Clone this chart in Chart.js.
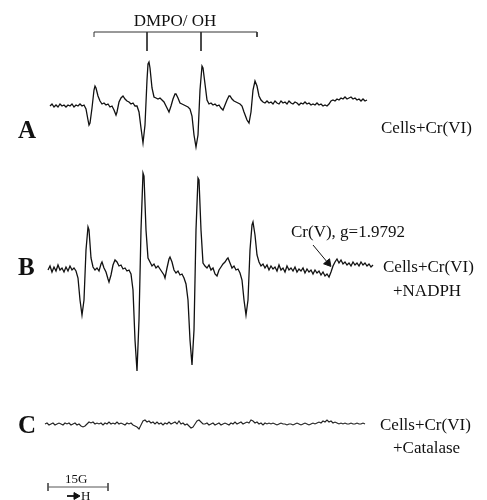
<!DOCTYPE html>
<html>
<head>
<meta charset="utf-8">
<script src="https://cdn.jsdelivr.net/npm/chart.js@4/dist/chart.umd.min.js"></script>
<style>
  html, body { margin: 0; padding: 0; background: #ffffff; }
  #wrap { position: relative; width: 487px; height: 500px; overflow: hidden; background: #fff; }
  #c { position: absolute; left: 0; top: 0; }
  .t { position: absolute; white-space: nowrap; line-height: 1; color: #111;
       font-family: "Liberation Serif", "Times New Roman", "DejaVu Serif", serif; }
</style>
</head>
<body>
<div id="wrap">
  <canvas id="c" width="487" height="500"></canvas>
  <div class="t" style="left:175px; top:12px; font-size:17px; transform:translateX(-50%);">DMPO/ OH</div>
  <div class="t" style="left:18px; top:117px; font-size:25px; font-weight:bold;">A</div>
  <div class="t" style="left:18px; top:254px; font-size:25px; font-weight:bold;">B</div>
  <div class="t" style="left:18px; top:412px; font-size:25px; font-weight:bold;">C</div>
  <div class="t" style="left:381px; top:119px; font-size:17px;">Cells+Cr(VI)</div>
  <div class="t" style="left:383px; top:258px; font-size:17px;">Cells+Cr(VI)</div>
  <div class="t" style="left:393px; top:282px; font-size:17px;">+NADPH</div>
  <div class="t" style="left:380px; top:416px; font-size:17px;">Cells+Cr(VI)</div>
  <div class="t" style="left:393px; top:439px; font-size:17px;">+Catalase</div>
  <div class="t" style="left:291px; top:223px; font-size:17px;">Cr(V), g=1.9792</div>
  <div class="t" style="left:65px; top:472px; font-size:13px;">15G</div>
  <div class="t" style="left:81px; top:489px; font-size:13px;">H</div>
</div>
<script>
// ---------------- DATA (magnetic field in G, signal in arbitrary units) ----------------
const fieldA = [12.5,13,13.5,14,14.5,15,15.5,16,16.5,17,17.5,18,18.5,19,19.5,20,20.5,21,21.5,22,22.25,22.5,23,23.5,23.75,24,24.5,25,25.5,26,26.5,27,27.5,28,28.5,29,29.25,29.75,30.25,30.75,31.25,31.75,32.25,32.75,33.25,33.75,34.25,34.75,35.25,35.75,36.25,36.75,37,37.25,37.5,38,38.5,39,39.5,40,40.5,41,41.5,42,42.25,42.75,43.25,43.75,44,44.5,45,45.5,46,46.5,47,47.5,48,48.5,49,49.5,50,50.5,50.75,51.25,51.75,52.25,52.75,53.25,53.75,54.25,54.75,55.25,55.75,56.25,56.75,57.25,57.5,58,58.5,59,59.5,60,60.5,61,61.75,62.25,62.75,63.25,63.75,64.25,64.75,65.25,65.75,66.25,66.75,67.25,67.75,68.25,68.75,69.25,69.75,70.25,70.75,71.25,71.75,72.25,72.75,73.25,73.75,74.25,74.75,75.25,75.75,76.25,76.75,77.25,77.75,78.25,78.75,79.25,79.75,80.25,80.75,81.25,81.75,82.25,82.75,83.25,83.75,84.25,84.75,85.25,85.75,86.25,86.75,87.25,87.75,88.25,88.75,89.25,89.75,90.25,90.75,91.25,91.75];
const signalA = [0,2,-1,1,-1,2,0,1,-1,1,0,2,-1,1,0,2,0,1,-3,-14,-19,-17,-2,16,20,18,10,5,2,3,1,2,-1,0,-4,-9,-6,4,8,10,7,5,4,2,3,0,0,-6,-22,-37,-19,26,42,44,38,18,9,8,7,8,6,4,0,-4,-6,0,7,12,12,8,3,2,1,0,-1,-3,-10,-29,-41,-29,16,40,38,22,6,2,3,1,2,0,1,-2,-4,1,6,10,10,7,5,4,3,2,0,-6,-14,-17,-6,16,25,20,10,6,4,3,5,3,4,2,5,3,2,5,3,4,2,5,3,2,4,3,1,3,2,4,2,3,1,2,1,3,1,2,0,1,0,2,5,6,5,7,6,8,7,9,7,8,9,7,8,6,7,5,7,5,6];

const fieldB = [12,12.5,13,13.5,14,14.5,15,15.5,16,16.5,17,17.5,18,18.5,19,19.5,20,20.5,21,21.5,22,22.25,22.75,23.25,23.75,24.25,24.75,25.25,25.5,26,26.5,27,27.25,27.75,28.25,28.75,29.25,29.75,30.25,30.75,31.25,31.75,32.25,32.75,33.25,33.75,34.25,34.75,35.25,35.75,36,36.5,37,37.5,38,38.5,39,39.5,40,40.5,41,41.25,41.75,42.25,42.5,43,43.5,44,44.5,45,45.5,46,46.5,47,47.5,48,48.5,49,49.5,49.75,50.25,50.75,51.25,51.75,52.25,52.75,53.25,53.75,54.25,54.75,55.25,55.75,56.25,56.75,57,57.5,58,58.5,59,59.5,60,60.5,61,61.5,62,62.5,63,63.25,63.75,64.25,64.75,65.25,65.75,66.25,66.75,67.25,67.75,68.25,68.75,69.25,69.75,70.25,70.75,71.25,71.75,72.25,72.75,73.25,73.75,74.25,74.75,75.25,75.75,76.25,76.75,77.25,77.75,78.25,78.75,79.25,79.75,80.25,80.75,81.25,81.75,82.25,82.75,83.25,83.75,84.25,84.75,85.25,85.75,86.25,86.75,87.25,87.75,88.25,88.75,89.25,89.75,90.25,90.75,91.25,91.75,92.25,92.75,93.25];
const signalB = [-1,3,-3,2,-2,4,-1,1,-3,2,-2,3,-1,1,-2,-9,-31,-46,-31,19,42,39,11,2,-1,1,-2,5,7,1,-3,-10,-13,-6,4,9,7,3,4,0,1,-2,-1,-5,-21,-71,-102,-51,39,96,93,39,11,7,3,5,1,3,0,-3,-6,-9,1,10,12,7,-1,-4,-2,-6,-5,-9,-15,-31,-71,-96,-61,39,91,89,39,6,3,1,4,-1,1,-5,-7,-1,2,5,7,10,11,6,1,3,-1,0,-4,-11,-31,-46,-31,19,44,47,34,14,7,3,5,1,4,-1,3,0,2,-2,4,-1,1,-3,3,-1,1,-2,2,-3,0,-2,1,-4,0,-3,-1,-5,-1,-4,-2,-6,-3,-7,-5,-8,-3,3,7,10,6,9,5,7,4,6,3,7,4,6,3,7,4,6,3,5,2,4];

const fieldC = [11.25,11.75,12.25,12.75,13.25,13.75,14.25,14.75,15.25,15.75,16.25,16.75,17.25,17.75,18.25,18.75,19.25,19.75,20.25,20.75,21.25,21.75,22.25,22.75,23.25,23.75,24.25,24.75,25.25,25.75,26.25,26.75,27.25,27.75,28.25,28.75,29.25,29.75,30.25,30.75,31.25,31.75,32.25,32.75,33.25,33.75,34.25,34.75,35.25,35.75,36.25,36.75,37.25,37.75,38.25,38.75,39.25,39.75,40.25,40.75,41.25,41.75,42.25,42.75,43.25,43.75,44.25,44.75,45.25,45.75,46.25,46.75,47.25,47.75,48.25,48.75,49.25,49.75,50.25,50.75,51.25,51.75,52.25,52.75,53.25,53.75,54.25,54.75,55.25,55.75,56.25,56.75,57.25,57.75,58.25,58.75,59.25,59.75,60.25,60.75,61.25,61.75,62.25,62.75,63.25,63.75,64.25,64.75,65.25,65.75,66.25,66.75,67.25,67.75,68.25,68.75,69.25,69.75,70.25,70.75,71.25,71.75,72.25,72.75,73.25,73.75,74.25,74.75,75.25,75.75,76.25,76.75,77.25,77.75,78.25,78.75,79.25,79.75,80.25,80.75,81.25,81.75,82.25,82.75,83.25,83.75,84.25,84.75,85.25,85.75,86.25,86.75,87.25,87.75,88.25,88.75,89.25,89.75,90.25,90.75,91.25];
const signalC = [0,1,-1,0,1,-1,0,1,0,-1,1,0,1,-1,0,1,-1,0,-2,-3,-2,0,2,1,2,0,1,0,1,-1,1,0,2,0,1,0,2,0,1,0,-1,1,0,1,-1,-2,-3,-5,-1,3,4,2,3,1,2,0,2,0,1,-1,1,0,2,0,1,2,0,3,0,1,-1,0,-2,-4,-3,0,3,4,2,0,0,1,-1,0,1,-1,0,1,-1,0,1,0,-1,1,0,2,0,1,2,0,1,2,1,4,3,1,2,0,1,-1,1,0,1,0,1,0,-1,0,1,0,0,-1,0,0,-1,0,1,0,-1,0,1,0,-1,0,1,0,1,2,1,3,2,4,2,3,1,2,1,0,1,0,1,0,0,1,0,0,1,0,0,1,0];

// DMPO/OH stick diagram (line positions in G, relative stick lengths)
const stickField = [23.5, 36.75, 50.25, 64.25];
const stickLength = [5, 19, 19, 5];

// Cr(V) signal marker (G) and field scale bar (G)
const crArrowField = [78.25, 82];
const scaleBarStart = 12;
const scaleBarLength = 15;
const fieldArrow = [16.75, 19];

// ---------------- LAYOUT ----------------
const baseA = 394, baseB = 231, baseC = 76;   // vertical offsets of the three traces
const stickTop = 468;
const scaleY = 13, scaleTick = 4, arrowY = 4;
const crArrowY = [255, 237];

function trace(fields, sig, base) {
  return fields.map((f, i) => ({ x: f, y: base + sig[i] }));
}

const s = stickField, L = stickLength;
const stickData = [
  {x:s[0], y:stickTop - L[0]}, {x:s[0], y:stickTop}, {x:s[3], y:stickTop}, {x:s[3], y:stickTop - L[3]},
  {x:s[3], y:null},
  {x:s[1], y:stickTop}, {x:s[1], y:stickTop - L[1]},
  {x:s[1], y:null},
  {x:s[2], y:stickTop}, {x:s[2], y:stickTop - L[2]}
];
const sEnd = scaleBarStart + scaleBarLength;
const scaleData = [
  {x:scaleBarStart, y:scaleY + scaleTick}, {x:scaleBarStart, y:scaleY - scaleTick}, {x:scaleBarStart, y:null},
  {x:scaleBarStart, y:scaleY}, {x:sEnd, y:scaleY}, {x:sEnd, y:null},
  {x:sEnd, y:scaleY + scaleTick}, {x:sEnd, y:scaleY - scaleTick}
];

const lineDs = (data, color, width) => ({
  data, borderColor: color, borderWidth: width, pointRadius: 0, pointBorderWidth: 0,
  pointHoverRadius: 0, tension: 0, fill: false, spanGaps: false, clip: false
});

// arrow: line plus triangular head on the 3rd point; null end-points keep layout padding at zero
function arrowDs(x0, y0, x1, y1, rot, width, head) {
  return Object.assign(lineDs([{x:x0, y:null}, {x:x0, y:y0}, {x:x1, y:y1}, {x:x1, y:null}], '#111', width), {
    pointStyle: 'triangle', pointRadius: [0, 0, head, 0], pointRotation: [0, 0, rot, 0],
    pointBackgroundColor: '#111', pointBorderColor: '#111', pointBorderWidth: [0, 0, 1, 0]
  });
}

new Chart(document.getElementById('c'), {
  type: 'line',
  data: {
    datasets: [
      lineDs(trace(fieldA, signalA, baseA), '#111', 1.3),
      lineDs(trace(fieldB, signalB, baseB), '#111', 1.3),
      lineDs(trace(fieldC, signalC, baseC), '#222', 1.1),
      lineDs(stickData, '#333', 1),
      lineDs(scaleData, '#555', 1),
      arrowDs(crArrowField[0], crArrowY[0], crArrowField[1], crArrowY[1], 140, 1, 4.5),
      arrowDs(fieldArrow[0], arrowY, fieldArrow[1], arrowY, 90, 1.8, 4)
    ]
  },
  options: {
    responsive: false,
    animation: false,
    devicePixelRatio: 1,
    layout: { padding: 0 },
    plugins: { legend: { display: false }, tooltip: { enabled: false } },
    scales: {
      x: { type: 'linear', min: 0, max: 121.75, display: false },
      y: { type: 'linear', min: 0, max: 500, display: false }
    }
  }
});
</script>
</body>
</html>
